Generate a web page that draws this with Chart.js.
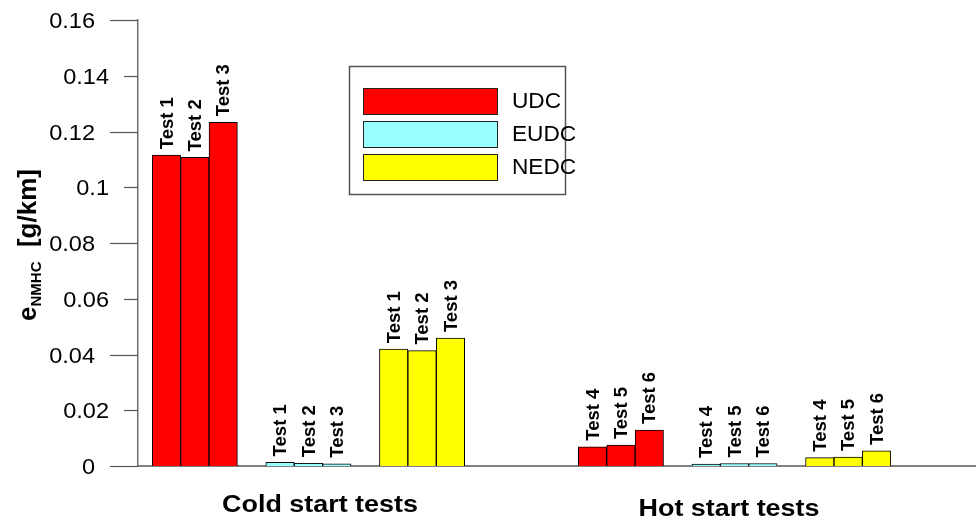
<!DOCTYPE html>
<html>
<head>
<meta charset="utf-8">
<script src="https://cdn.jsdelivr.net/npm/chart.js@4.4.1/dist/chart.umd.min.js"></script>
<style>
  html, body { margin: 0; padding: 0; background: #fff; }
  #wrap { width: 976px; height: 520px; position: relative; }
</style>
</head>
<body>
<div id="wrap"><canvas id="chart"></canvas></div>
<script>
/* NMHC emissions per driving cycle, cold vs hot start tests */

const cycles = ["UDC", "EUDC", "NEDC"];
const cycleColors = ["#ff0000", "#99ffff", "#ffff00"];
const groups = ["Cold start tests", "Hot start tests"];
const testLabels = ["Test 1", "Test 2", "Test 3", "Test 4", "Test 5", "Test 6"];

// g/km — tests 1-3 cold start, tests 4-6 hot start
const udcValues  = [0.1115, 0.1107, 0.1233, 0.0069, 0.0075, 0.0129];
const eudcValues = [0.0013, 0.0010, 0.0008, 0.0007, 0.0009, 0.0009];
const nedcValues = [0.0419, 0.0414, 0.0459, 0.0030, 0.0032, 0.0054];

const yTicks = [0, 0.02, 0.04, 0.06, 0.08, 0.1, 0.12, 0.14, 0.16];
const yTickLabels = ["0", "0.02", "0.04", "0.06", "0.08", "0.1", "0.12", "0.14", "0.16"];

const FONT = '"Liberation Sans", Arial, Helvetica, sans-serif';

// bar slots on the linear x scale: each group starts at a slot, cycles 4 slots apart
const groupStart = [0, 15];
const cycleStep = 4;

function slotData(values, c) {
  return values.map((v, i) => ({
    x: groupStart[Math.floor(i / 3)] + c * cycleStep + (i % 3),
    y: v,
  }));
}

const valueSets = [udcValues, eudcValues, nedcValues];
const datasets = cycles.map((name, c) => ({
  label: name,
  data: slotData(valueSets[c], c),
  backgroundColor: cycleColors[c],
  borderColor: "#000",
  borderWidth: 1,
  borderSkipped: "bottom",
  grouped: false,
  barPercentage: 1,
  categoryPercentage: 1,
}));

// text drawn a little wider than the font, like the original export
function wideText(ctx, text, x, y, sx) {
  ctx.save();
  ctx.translate(x, y);
  ctx.scale(sx, 1);
  ctx.fillText(text, 0, 0);
  ctx.restore();
}

const decorPlugin = {
  id: "decor",
  afterDatasetsDraw(chart) {
    const { ctx } = chart;
    const y = chart.scales.y;

    ctx.save();
    // y ticks: long on every 0.04, short in between
    ctx.strokeStyle = "#555";
    ctx.lineWidth = 1.2;
    ctx.fillStyle = "#000";
    ctx.font = "22px " + FONT;
    ctx.textAlign = "right";
    ctx.textBaseline = "middle";
    yTicks.forEach((v, i) => {
      const py = Math.round(y.getPixelForValue(v)) + 0.5;
      const long = i % 2 === 0;
      const x0 = long ? 110 : 124;
      ctx.beginPath();
      ctx.moveTo(x0, py);
      ctx.lineTo(138, py);
      ctx.stroke();
      wideText(ctx, yTickLabels[i], x0 - 15, py + 1, 1.07);
    });

    // rotated "Test n" labels above each bar
    ctx.font = "bold 18.5px " + FONT;
    ctx.textAlign = "left";
    ctx.textBaseline = "middle";
    chart.data.datasets.forEach((ds, di) => {
      chart.getDatasetMeta(di).data.forEach((bar, i) => {
        ctx.save();
        ctx.translate(bar.x + 1, bar.y - 6);
        ctx.rotate(-Math.PI / 2);
        ctx.fillText(testLabels[i], 0, 0);
        ctx.restore();
      });
    });

    // group captions under the x axis
    ctx.font = "bold 23px " + FONT;
    ctx.textAlign = "center";
    ctx.textBaseline = "alphabetic";
    wideText(ctx, groups[0], 320, 512, 1.17);
    wideText(ctx, groups[1], 729, 516, 1.17);

    // y axis title: e_NMHC  [g/km]
    const mainF = "bold 26px " + FONT;
    const subF = "bold 15px " + FONT;
    ctx.font = mainF;
    const wE = ctx.measureText("e").width;
    const wU = ctx.measureText("  [g/km]").width;
    ctx.font = subF;
    const wS = ctx.measureText("NMHC").width;
    const total = wE + wS + wU;
    ctx.translate(36, 245);
    ctx.rotate(-Math.PI / 2);
    let cx = -total / 2;
    ctx.textAlign = "left";
    ctx.font = mainF;
    ctx.fillText("e", cx, 0);
    cx += wE;
    ctx.font = subF;
    ctx.fillText("NMHC", cx, 5);
    cx += wS;
    ctx.font = mainF;
    ctx.fillText("  [g/km]", cx, 0);
    ctx.restore();

    // legend box
    ctx.save();
    ctx.strokeStyle = "#555";
    ctx.lineWidth = 1.5;
    ctx.strokeRect(349.5, 66.5, 216, 128);
    ctx.font = "22px " + FONT;
    ctx.textAlign = "left";
    ctx.textBaseline = "middle";
    chart.data.datasets.forEach((ds, i) => {
      const top = 88 + i * 33;
      ctx.fillStyle = ds.backgroundColor;
      ctx.fillRect(363, top, 134, 26);
      ctx.strokeStyle = "#222";
      ctx.lineWidth = 1;
      ctx.strokeRect(363.5, top + 0.5, 134, 26);
      ctx.fillStyle = "#000";
      wideText(ctx, ds.label, 512, top + 14, 1.03);
    });
    ctx.restore();
  },
};

new Chart(document.getElementById("chart"), {
  type: "bar",
  data: { datasets },
  options: {
    animation: false,
    responsive: true,
    maintainAspectRatio: false,
    events: [],
    layout: { padding: { top: 20, right: 0, bottom: 0, left: 0 } },
    plugins: {
      legend: { display: false },
      tooltip: { enabled: false },
    },
    scales: {
      x: {
        type: "linear",
        offset: false,
        min: -1,
        max: 28.5,
        ticks: { display: false, stepSize: 1 },
        grid: { display: false, offset: false },
        border: { display: true, color: "#808080", width: 2 },
        afterFit: (s) => { s.height = 54; },
      },
      y: {
        min: 0,
        max: 0.16,
        ticks: { display: false, stepSize: 0.02 },
        grid: { display: false },
        border: { display: true, color: "#707070", width: 1.5 },
        afterFit: (s) => { s.width = 138; },
      },
    },
  },
  plugins: [decorPlugin],
});
</script>
</body>
</html>
